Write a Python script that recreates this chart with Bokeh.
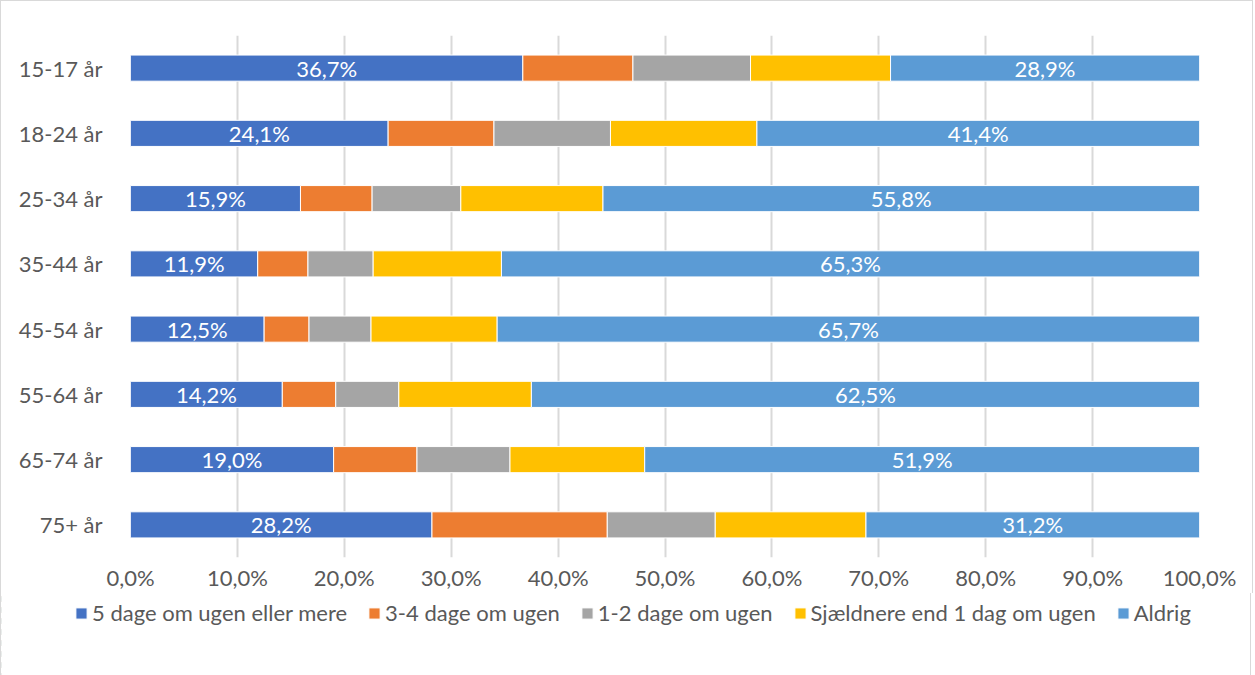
from bokeh.plotting import figure
from bokeh.models import ColumnDataSource, FixedTicker, Legend, LegendItem, LabelSet
from bokeh.core.properties import value
from bokeh.embed import file_html
from bokeh.resources import INLINE

categories = ["15-17 år", "18-24 år", "25-34 år", "35-44 år", "45-54 år", "55-64 år", "65-74 år", "75+ år"]
series_names = ["5 dage om ugen eller mere", "3-4 dage om ugen", "1-2 dage om ugen",
                "Sjældnere end 1 dag om ugen", "Aldrig"]
s_5plus = [36.7, 24.1, 15.9, 11.9, 12.5, 14.2, 19.0, 28.2]
s_3_4 = [10.3, 9.9, 6.7, 4.7, 4.2, 5.0, 7.8, 16.4]
s_1_2 = [11.0, 10.9, 8.3, 6.1, 5.8, 5.9, 8.7, 10.1]
s_sjaeld = [13.1, 13.7, 13.3, 12.0, 11.8, 12.4, 12.6, 14.1]
s_aldrig = [28.9, 41.4, 55.8, 65.3, 65.7, 62.5, 51.9, 31.2]
colors = ["#4472C4", "#ED7D31", "#A5A5A5", "#FFC000", "#5B9BD5"]
x_ticks = [0, 10, 20, 30, 40, 50, 60, 70, 80, 90, 100]
x_tick_labels = ["0,0%", "10,0%", "20,0%", "30,0%", "40,0%", "50,0%", "60,0%", "70,0%", "80,0%", "90,0%", "100,0%"]

FONT = "Lato"
FS = "22px"
BORDER = "1px solid #d9d9d9"
series = [s_5plus, s_3_4, s_1_2, s_sjaeld, s_aldrig]

p = figure(y_range=list(reversed(categories)), x_range=(0, 100),
           frame_width=1069, frame_height=522, output_backend="svg", toolbar_location=None,
           min_border_left=129, min_border_right=53, min_border_top=34, min_border_bottom=0)
p.outline_line_color = None
p.styles = {"border-top": BORDER, "border-left": BORDER, "border-right": BORDER}

data = {"cat": categories}
for i, s in enumerate(series):
    data[f"s{i}"] = s
src = ColumnDataSource(data)
keys = [f"s{i}" for i in range(5)]
renderers = p.hbar_stack(keys, y="cat", height=0.4, color=colors, source=src,
                         line_color="white", line_width=1)

mid0 = [v / 2 for v in s_5plus]
mid4 = [100 - v / 2 for v in s_aldrig]
lab_src = ColumnDataSource(dict(
    y=categories + categories,
    x=mid0 + mid4,
    t=[f"{v:.1f}%".replace(".", ",") for v in s_5plus] + [f"{v:.1f}%".replace(".", ",") for v in s_aldrig],
))
labels = LabelSet(x="x", y="y", text="t", source=lab_src, text_color="white",
                  text_font=value(FONT), text_font_size=FS, text_align="center",
                  text_baseline="middle")
p.add_layout(labels)

p.xaxis.ticker = FixedTicker(ticks=x_ticks)
p.xaxis.major_label_overrides = {t: l for t, l in zip(x_ticks, x_tick_labels)}
p.xaxis.axis_line_color = None
p.xaxis.major_tick_line_color = None
p.xaxis.minor_tick_line_color = None
p.xaxis.major_label_text_font = FONT
p.xaxis.major_label_text_font_size = FS
p.xaxis.major_label_text_color = "#595959"
p.xaxis.major_label_standoff = 0

p.yaxis.axis_line_color = None
p.yaxis.major_tick_line_color = None
p.yaxis.minor_tick_line_color = None
p.yaxis.major_label_text_font = FONT
p.yaxis.major_label_text_font_size = FS
p.yaxis.major_label_text_color = "#595959"
p.yaxis.major_label_standoff = 22

p.xgrid.grid_line_color = "#d9d9d9"
p.xgrid.grid_line_width = 2
p.ygrid.grid_line_color = None

# legend strip (separate root so it is not frame-aligned with the chart)
p2 = figure(y_range=list(reversed(categories)), x_range=(200, 300), width=1251, height=88,
            output_backend="svg", toolbar_location=None,
            x_axis_location=None, y_axis_location=None,
            min_border_left=0, min_border_right=0, min_border_top=0, min_border_bottom=0)
p2.grid.grid_line_color = None
p2.outline_line_color = None
p2.styles = {"border-bottom": BORDER, "border-left": BORDER, "border-right": BORDER}
leg_renderers = p2.hbar_stack(keys, y="cat", height=0.4, color=colors, source=src,
                              line_color="white", line_width=1)
legend = Legend(items=[LegendItem(label=n, renderers=[r]) for n, r in zip(series_names, leg_renderers)],
                orientation="horizontal", location=(73, 55),
                label_text_font=FONT, label_text_font_size=FS, label_text_color="#595959",
                glyph_width=14, glyph_height=14, label_standoff=4, spacing=20,
                border_line_color=None, padding=0, margin=0, background_fill_alpha=0)
p2.add_layout(legend, "center")

open("out.html", "w").write(file_html([p, p2], INLINE))
